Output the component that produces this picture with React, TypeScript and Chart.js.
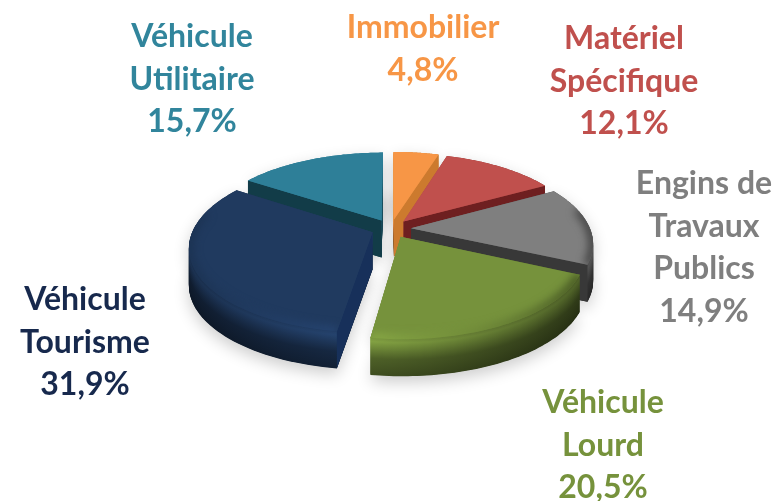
import React, { useEffect, useRef } from "react";
import { Chart, registerables } from "chart.js";

Chart.register(...registerables);

const categories = [
  ["Immobilier"],
  ["Matériel", "Spécifique"],
  ["Engins de", "Travaux", "Publics"],
  ["Véhicule", "Lourd"],
  ["Véhicule", "Tourisme"],
  ["Véhicule", "Utilitaire"],
];
const shares = [4.8, 12.1, 14.9, 20.5, 31.9, 15.7];
const faceColors = ["#F79646", "#C0504D", "#7F7F7F", "#76923C", "#203A5F", "#2E7F98"];
const cutColors = ["#CC7A2E", "#6E1F20", "#383838", "#3F4F20", "#17305A", "#123C48"];
const textColors = ["#F79646", "#C0504D", "#7F7F7F", "#76923C", "#17294D", "#31859C"];
const labelCentres = [
  [423, 28],
  [624, 39],
  [704, 184],
  [603, 403],
  [85, 300],
  [192, 37],
];

const LINE_HEIGHT = 42.4;
const DEPTH = 37;
const TILT = 82;
const PERSPECTIVE = 0.17;

function rgb(hex: string) {
  return [1, 3, 5].map((i) => parseInt(hex.slice(i, i + 2), 16));
}
function shade(hex: string, f: number, a = 1) {
  const [r, g, b] = rgb(hex);
  return `rgba(${Math.min(255, r * f)},${Math.min(255, g * f)},${Math.min(255, b * f)},${a})`;
}
function profile(t: number) {
  if (t < 0.1) return 1 + t * 0.8;
  if (t < 0.55) return 1.08 - ((t - 0.1) / 0.45) * 0.43;
  return 0.65 - ((t - 0.55) / 0.45) * 0.13;
}

function outline(arc: any) {
  const { x, y, startAngle, endAngle, outerRadius } = arc.getProps(
    ["x", "y", "startAngle", "endAngle", "outerRadius"],
    true
  );
  const off = arc.options.offset || 0;
  const mid = (startAngle + endAngle) / 2;
  const ox = Math.cos(mid) * off;
  const oy = Math.sin(mid) * off;
  const project = (dx: number, dy: number) => {
    const n = dy / outerRadius;
    const s = 1 / (1 - PERSPECTIVE * n);
    return [x + dx * s, y + n * TILT * s];
  };
  const apex = project(ox, oy);
  const rim: number[][] = [];
  const front: number[][] = [];
  const steps = 60;
  for (let i = 0; i <= steps; i++) {
    const a = startAngle + ((endAngle - startAngle) * i) / steps;
    const p = project(ox + Math.cos(a) * outerRadius, oy + Math.sin(a) * outerRadius);
    rim.push(p);
    if (Math.sin(a) > -0.25) front.push(p);
  }
  return { apex, rim, front, midY: apex[1] };
}

function tracePoly(ctx: CanvasRenderingContext2D, pts: number[][], dy: number) {
  ctx.beginPath();
  pts.forEach((p, i) => (i ? ctx.lineTo(p[0], p[1] + dy) : ctx.moveTo(p[0], p[1] + dy)));
  ctx.closePath();
}

const pie3d = {
  id: "pie3d",
  beforeDatasetsDraw(chart: any) {
    const ctx: CanvasRenderingContext2D = chart.ctx;
    const arcs = chart.getDatasetMeta(0).data;
    const items = arcs.map((arc: any, i: number) => ({ ...outline(arc), i }));
    items.forEach((it: any) => {
      ctx.save();
      ctx.shadowColor = "rgba(0,0,0,0.2)";
      ctx.shadowBlur = 16;
      ctx.shadowOffsetY = 6;
      ctx.fillStyle = "#ddd";
      tracePoly(ctx, [it.apex, ...it.rim], DEPTH);
      ctx.fill();
      tracePoly(ctx, [it.apex, ...it.rim], 0);
      ctx.fill();
      ctx.restore();
    });
    items.sort((a: any, b: any) => a.midY - b.midY);
    items.forEach((it: any) => {
      const pts = [it.apex, ...it.rim];
      const base = faceColors[it.i];
      for (let d = DEPTH; d >= 0; d -= 0.5) {
        const f = profile(d / DEPTH);
        const g = ctx.createLinearGradient(190, 0, 590, 0);
        g.addColorStop(0, shade(base, f * 0.78));
        g.addColorStop(0.38, shade(base, f * 1.08));
        g.addColorStop(1, shade(base, f * 0.6));
        ctx.fillStyle = g;
        tracePoly(ctx, pts, d);
        ctx.fill();
      }
      const first = it.rim[0];
      const last = it.rim[it.rim.length - 1];
      ctx.fillStyle = cutColors[it.i];
      [
        first[0] < it.apex[0] - 0.5 ? first : null,
        last[0] > it.apex[0] + 0.5 ? last : null,
      ].forEach((r) => {
        if (!r) return;
        tracePoly(
          ctx,
          [it.apex, r, [r[0], r[1] + DEPTH], [it.apex[0], it.apex[1] + DEPTH]],
          0
        );
        ctx.fill();
      });
      ctx.fillStyle = base;
      tracePoly(ctx, pts, 0);
      ctx.fill();
      // soft bevel along the front of the rim
      if (it.front.length > 1) {
        ctx.save();
        tracePoly(ctx, pts, 0);
        ctx.clip();
        ctx.filter = "blur(4px)";
        const g = ctx.createLinearGradient(190, 0, 590, 0);
        g.addColorStop(0, shade(base, 0.82, 0.8));
        g.addColorStop(0.4, shade(base, 1.3, 0.8));
        g.addColorStop(0.62, shade(base, 1.05, 0.5));
        g.addColorStop(1, shade(base, 0.45, 0.9));
        ctx.strokeStyle = g;
        ctx.lineWidth = 9;
        ctx.beginPath();
        it.front.forEach((p: number[], i: number) =>
          i ? ctx.lineTo(p[0], p[1]) : ctx.moveTo(p[0], p[1])
        );
        ctx.stroke();
        ctx.restore();
      }
    });
    return false;
  },
  afterDraw(chart: any) {
    const ctx: CanvasRenderingContext2D = chart.ctx;
    ctx.save();
    ctx.font = "bold 32px Lato";
    ctx.textAlign = "center";
    ctx.textBaseline = "middle";
    chart.data.labels.forEach((lines: string[], i: number) => {
      const value = shares[i].toFixed(1).replace(".", ",") + "%";
      const [cx, cy] = labelCentres[i];
      ctx.fillStyle = textColors[i];
      [...lines, value].forEach((t, k) => ctx.fillText(t, cx, cy + k * LINE_HEIGHT));
    });
    ctx.restore();
  },
};

export default function App() {
  const ref = useRef<HTMLCanvasElement>(null);
  useEffect(() => {
    const chart = new Chart(ref.current!, {
      type: "pie",
      data: {
        labels: categories as any,
        datasets: [
          {
            data: shares,
            backgroundColor: faceColors,
            borderWidth: 0,
            offset: 20,
          },
        ],
      },
      options: {
        responsive: false,
        animation: false,
        radius: 179,
        layout: { padding: { left: 8, bottom: 44 } },
        plugins: { legend: { display: false }, tooltip: { enabled: false } },
      } as any,
      plugins: [pie3d as any],
    });
    return () => chart.destroy();
  }, []);
  return (
    <div style={{ position: "fixed", left: 0, top: 0, width: 774, height: 501, background: "#fff" }}>
      <canvas ref={ref} width={774} height={501} style={{ display: "block" }} />
    </div>
  );
}
